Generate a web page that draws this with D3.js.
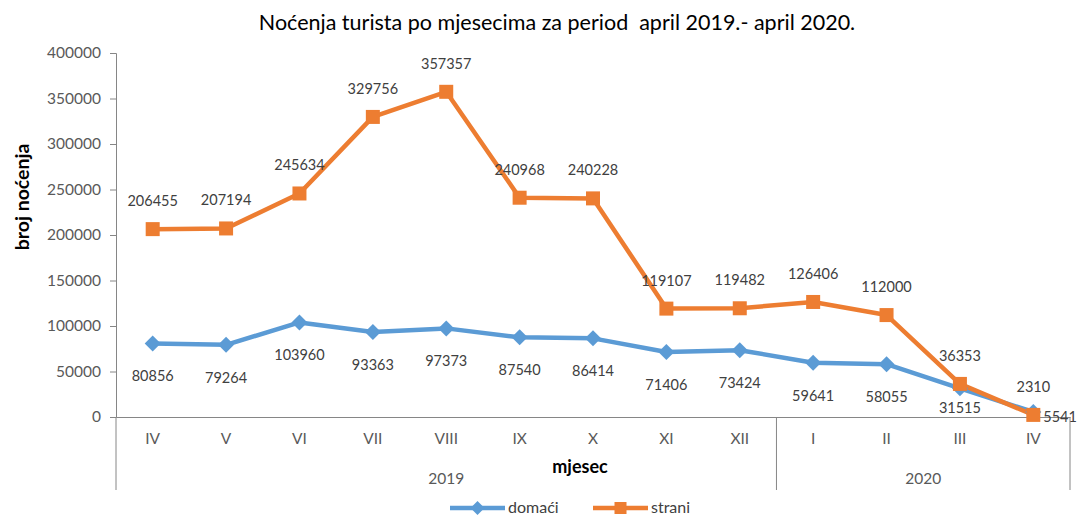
<!DOCTYPE html>
<html><head><meta charset="utf-8">
<script src="https://cdn.jsdelivr.net/npm/d3@7"></script>
<style>
body{margin:0;background:#fff;}
svg{display:block;font-family:Lato,"Open Sans",sans-serif;}
</style></head>
<body><svg id="c" width="1082" height="517"></svg>
<script>
const months = ["IV","V","VI","VII","VIII","IX","X","XI","XII","I","II","III","IV"];
const years = [{label:"2019", start:0, end:9},{label:"2020", start:9, end:13}];
const domaci = [80856,79264,103960,93363,97373,87540,86414,71406,73424,59641,58055,31515,5541];
const strani = [206455,207194,245634,329756,357357,240968,240228,119107,119482,126406,112000,36353,2310];
const yTicks = [0,50000,100000,150000,200000,250000,300000,350000,400000];
const title = "Noćenja turista po mjesecima za period  april 2019.- april 2020.";

(function(){
const svg = d3.select("#c");
const pLeft = 116, pRight = 1070, pTop = 53, pBottom = 417;
const idx = d3.range(months.length);
const x = d3.scaleBand().domain(idx).range([pLeft,pRight]).paddingInner(0).paddingOuter(0);
const y = d3.scaleLinear().domain([0,400000]).range([pBottom,pTop]);
const cx = i => x(i) + x.bandwidth()/2;
const axisColor = "#868686", tickText = "#595959";

// title
svg.append("text").attr("x",557).attr("y",30).attr("text-anchor","middle")
  .style("white-space","pre").attr("font-size",21.5).attr("fill","#000").text(title);

// y axis
const yAxis = svg.append("g").attr("transform",`translate(${pLeft},0)`)
  .call(d3.axisLeft(y).tickValues(yTicks).tickSize(6).tickPadding(9).tickFormat(d3.format("d")));
yAxis.select(".domain").attr("stroke",axisColor);
yAxis.selectAll(".tick line").attr("stroke",axisColor);
yAxis.selectAll(".tick text").attr("fill",tickText).attr("font-size",15.5).attr("font-family","Lato,sans-serif");

svg.append("text").attr("transform","translate(29,197) rotate(-90)").attr("text-anchor","middle")
  .attr("font-size",19.5).attr("font-weight","bold").attr("fill","#000").text("broj noćenja");

// x axis (multi-level)
const xAxis = svg.append("g").attr("transform",`translate(0,${pBottom})`)
  .call(d3.axisBottom(x).tickSize(0).tickPadding(16).tickFormat(i => months[i]));
xAxis.select(".domain").attr("stroke",axisColor);
xAxis.selectAll(".tick text").attr("fill",tickText).attr("font-size",15.5).attr("font-family","Lato,sans-serif");
const seps = [0, ...years.map(d=>d.end)];
const sx = i => i===months.length ? pRight : x(i);
svg.selectAll("line.sep").data(seps).join("line").attr("class","sep")
  .attr("x1",sx).attr("x2",sx)
  .attr("y1",pBottom).attr("y2",490).attr("stroke",axisColor).attr("stroke-width",1);
svg.selectAll("text.year").data(years).join("text").attr("class","year")
  .attr("x",d=> (sx(d.start) + sx(d.end))/2).attr("y",484)
  .attr("text-anchor","middle").attr("fill",tickText).attr("font-size",15.5).text(d=>d.label);
svg.append("text").attr("x",580).attr("y",473).attr("text-anchor","middle")
  .attr("font-size",18).attr("font-weight","bold").attr("fill","#000").text("mjesec");

// lines
const line = d3.line().x((d,i)=>cx(i)).y(d=>y(d));
const blue = "#5B9BD5", orange = "#ED7D31";
svg.append("path").datum(domaci).attr("d",line).attr("fill","none").attr("stroke",blue).attr("stroke-width",4.5).attr("stroke-linejoin","round");
svg.append("path").datum(strani).attr("d",line).attr("fill","none").attr("stroke",orange).attr("stroke-width",4.5).attr("stroke-linejoin","round");

const diamond = (px,py,r) => `M${px},${py-r}L${px+r},${py}L${px},${py+r}L${px-r},${py}Z`;
svg.selectAll("path.dm").data(domaci).join("path").attr("class","dm")
  .attr("d",(d,i)=>diamond(cx(i),y(d),8)).attr("fill",blue);
svg.selectAll("rect.sm").data(strani).join("rect").attr("class","sm")
  .attr("x",(d,i)=>cx(i)-7).attr("y",d=>y(d)-7).attr("width",14).attr("height",14).attr("fill",orange);

// data labels
const labColor = "#404040";
svg.selectAll("text.sl").data(strani).join("text").attr("class","sl")
  .attr("x",(d,i)=>cx(i)).attr("y",d=>y(d)-23).attr("text-anchor","middle")
  .attr("font-size",14.5).attr("fill",labColor).text(d=>d);
const last = domaci.length-1;
svg.selectAll("text.dl").data(domaci).join("text").attr("class","dl")
  .attr("x",(d,i)=> i===last ? cx(i)+10 : cx(i))
  .attr("y",(d,i)=> i===last ? y(d)+10 : (i===last-1 ? y(d)+25 : y(d)+38))
  .attr("text-anchor",(d,i)=> i===last ? "start" : "middle")
  .attr("font-size",14.5).attr("fill",labColor).text(d=>d);

// legend
const lg = svg.append("g");
const ly = 508;
const items = [{name:"domaći",c:blue,x1:450,x2:505,m:"d"},{name:"strani",c:orange,x1:593,x2:648,m:"s"}];
items.forEach(it=>{
  lg.append("line").attr("x1",it.x1).attr("x2",it.x2).attr("y1",ly).attr("y2",ly).attr("stroke",it.c).attr("stroke-width",4.5);
  const mx=(it.x1+it.x2)/2;
  if(it.m==="d") lg.append("path").attr("d",diamond(mx,ly,7)).attr("fill",it.c);
  else lg.append("rect").attr("x",mx-6).attr("y",ly-6).attr("width",12).attr("height",12).attr("fill",it.c);
  lg.append("text").attr("x",it.x2+3).attr("y",ly+5).attr("font-size",16).attr("fill","#404040").text(it.name);
});
})();
</script></body></html>
